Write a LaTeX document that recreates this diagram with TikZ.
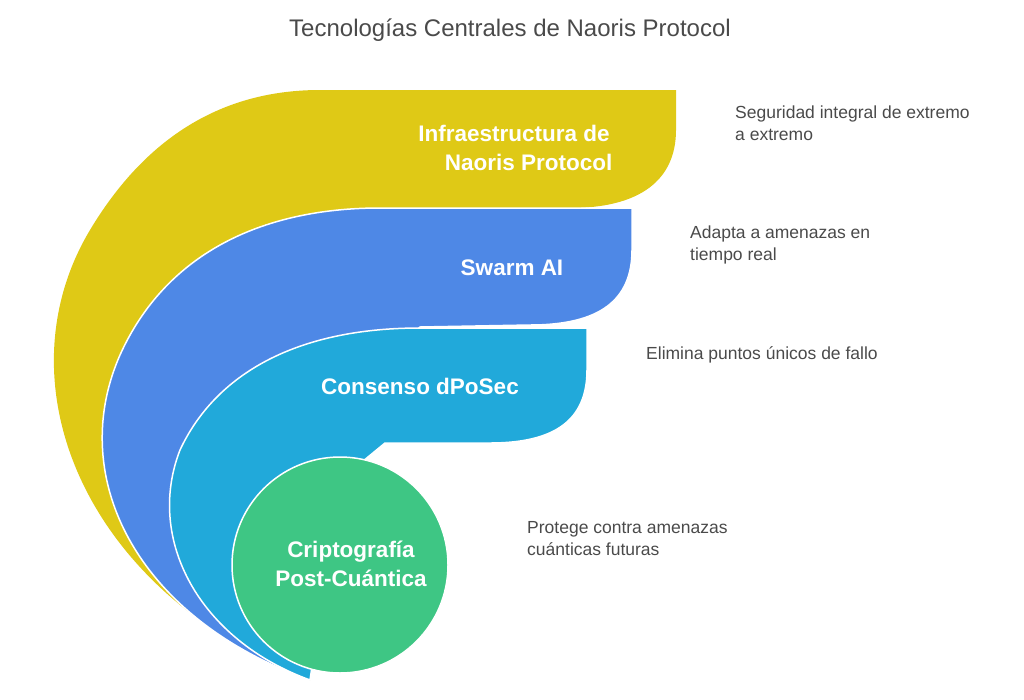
\documentclass[tikz,border=0pt]{standalone}
\usepackage{fontspec}
\setmainfont{Liberation Sans}
\usetikzlibrary{positioning}
\definecolor{cYellow}{HTML}{DFC916}
\definecolor{cBlue}{HTML}{4E88E6}
\definecolor{cCyan}{HTML}{21A9DA}
\definecolor{cGreen}{HTML}{3EC684}
\definecolor{cText}{HTML}{4A4A4A}
\tikzset{
    layer/.style={draw=white, line width=1.5pt, line join=round},
    tag/.style={font=\bfseries\fontsize{22.5}{29}\selectfont, text=white, align=center},
    note/.style={font=\fontsize{17.5}{22}\selectfont, text=cText, align=left, anchor=north west, inner sep=0pt}
}
\begin{document}
\begin{tikzpicture}[x=1pt, y=-1pt]
    \useasboundingbox (0,0) rectangle (1024,699);
    % Title
    \node[font=\fontsize{24}{28}\selectfont, text=cText] (title) at (510,30) {Tecnologías Centrales de Naoris Protocol};

    % Nested layers
    \fill[cYellow] (310,680) .. controls (80,590) and (0,380) .. (90,230)
        .. controls (150,130) and (230,90) .. (320,90) -- (676,90) -- (676,130)
        .. controls (676,180) and (640,208) .. (570,208) -- (380,209) -- (250,400) -- cycle;
    \fill[cBlue, layer] (310,680) .. controls (140,620) and (65,480) .. (120,355)
        .. controls (165,255) and (260,208) .. (380,208) -- (632,208) -- (632,250)
        .. controls (632,300) and (600,325) .. (530,325) -- (420,327) -- (300,450) -- cycle;
    \fill[cCyan, layer] (310,680) .. controls (200,640) and (145,540) .. (180,450)
        .. controls (215,375) and (295,328) .. (420,328) -- (587,328) -- (587,370)
        .. controls (587,420) and (555,443) .. (490,443) -- (385,443) -- (340,480) -- cycle;
    \fill[cGreen, layer] (340,565) circle (108);

    % Layer labels
    \node[tag] (infra) at (514,148) {Infraestructura de\\\hspace*{1.3em}Naoris Protocol};
    \node[tag] (swarm) at (512,268) {Swarm AI};
    \node[tag] (cons) at (420,386) {Consenso dPoSec};
    \node[tag] (cripto) at (351,564) {Criptografía\\Post-Cuántica};

    % Descriptions
    \node[note] (d1) at (735,106) {Seguridad integral de extremo\\a extremo};
    \node[note] (d2) at (690,226) {Adapta a amenazas en\\tiempo real};
    \node[note] (d3) at (646,346) {Elimina puntos únicos de fallo};
    \node[note] (d4) at (527,521) {Protege contra amenazas\\cuánticas futuras};
\end{tikzpicture}
\end{document}
